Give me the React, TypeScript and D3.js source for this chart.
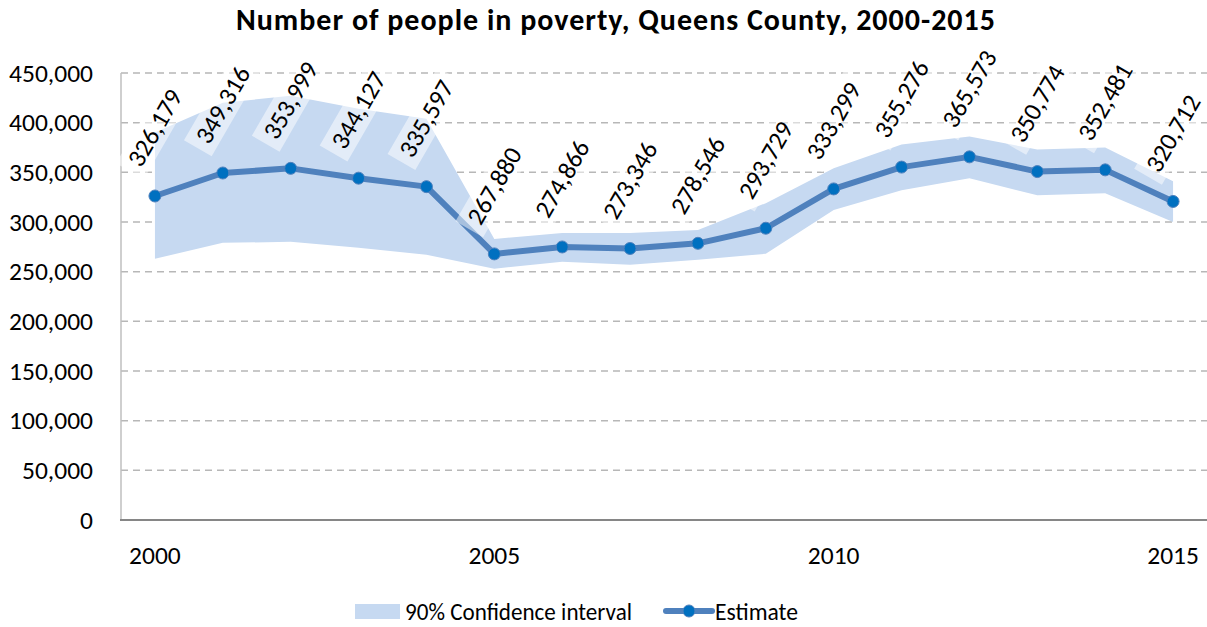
import React from "react";
import * as d3 from "d3";

const years = [2000, 2001, 2002, 2003, 2004, 2005, 2006, 2007, 2008, 2009, 2010, 2011, 2012, 2013, 2014, 2015];
const estimate = [326179, 349316, 353999, 344127, 335597, 267880, 274866, 273346, 278546, 293729, 333299, 355276, 365573, 350774, 352481, 320712];
const lower = [263000, 279000, 280000, 274000, 267000, 253000, 260000, 257000, 262000, 268000, 312000, 332000, 344000, 327000, 329000, 300000];
const upper = [390000, 420000, 427000, 414000, 404000, 283000, 289000, 289000, 292000, 319000, 354000, 378000, 386000, 373000, 375000, 341000];
const yTicks = [0, 50000, 100000, 150000, 200000, 250000, 300000, 350000, 400000, 450000];
const xLabels = [2000, 2005, 2010, 2015];

const W = 1207;
const H = 627;
const FONT = "Carlito, Calibri, Lato, 'Open Sans', sans-serif";
const BAND = "#c6d9f1";
const LINE = "#4f81bd";
const MARK = "#0070c0";

export default function App() {
  const x = d3.scaleBand<number>().domain(years).range([121, 1207]).padding(0);
  const cx = (yr: number) => (x(yr) as number) + x.bandwidth() / 2;
  const y = d3.scaleLinear().domain([0, 450000]).range([520, 73]);
  const fmt = d3.format(",");

  const area = d3
    .area<number>()
    .x((_, i) => cx(years[i]))
    .y0((_, i) => y(lower[i]))
    .y1((_, i) => y(upper[i]));
  const line = d3
    .line<number>()
    .x((_, i) => cx(years[i]))
    .y((d) => y(d));

  const fs = 25.5;
  const labelW = 92;
  const labelH = 26;

  return (
    <svg width={W} height={H} style={{ position: "absolute", left: 0, top: 0, background: "#fff" }} fontFamily={FONT}>
      <text x={236} y={30} fontWeight="bold" fontSize={30} fill="#000" textLength={759} lengthAdjust="spacing">
        Number of people in poverty, Queens County, 2000-2015
      </text>
      {yTicks.slice(1).map((t) => (
        <line key={t} x1={121} x2={1207} y1={y(t)} y2={y(t)} stroke="#b7b7b7" strokeWidth={1.5} strokeDasharray="7,5" />
      ))}
      {yTicks.map((t) => (
        <text key={"l" + t} x={93} y={y(t) + 8.5} textAnchor="end" fontSize={fs} fill="#000">
          {fmt(t)}
        </text>
      ))}
      <path d={area(estimate) as string} fill={BAND} />
      <line x1={121} x2={121} y1={73} y2={520} stroke="#bfbfbf" strokeWidth={1.5} />
      <line x1={120} x2={1207} y1={520} y2={520} stroke="#868686" strokeWidth={2} />
      {xLabels.map((yr) => (
        <text key={yr} x={cx(yr)} y={564} textAnchor="middle" fontSize={fs} fill="#000">
          {yr}
        </text>
      ))}
      <path d={line(estimate) as string} fill="none" stroke={LINE} strokeWidth={6} strokeLinejoin="round" />
      {estimate.map((v, i) => (
        <circle key={i} cx={cx(years[i])} cy={y(v)} r={6} fill={MARK} stroke={LINE} strokeWidth={1} />
      ))}
      {estimate.map((v, i) => {
        const px = cx(years[i]);
        const py = y(v) - 68;
        return (
          <g key={"d" + i} transform={`translate(${px},${py}) rotate(-60)`}>
            <rect x={-labelW / 2 - 4} y={-labelH / 2 - 3} width={labelW + 8} height={labelH + 6} fill="#fff" fillOpacity={0.5} />
            <text x={0} y={8.5} textAnchor="middle" fontSize={fs} fill="#000">
              {fmt(v)}
            </text>
          </g>
        );
      })}
      <rect x={355} y={604} width={45} height={15} fill={BAND} />
      <text x={405} y={620} fontSize={fs} fill="#000" textLength={227} lengthAdjust="spacingAndGlyphs">90% Confidence interval</text>
      <line x1={666} x2={712} y1={611} y2={611} stroke={LINE} strokeWidth={6} strokeLinecap="round" />
      <circle cx={689} cy={611} r={6} fill={MARK} stroke={LINE} strokeWidth={1} />
      <text x={715} y={620} fontSize={fs} fill="#000" textLength={83} lengthAdjust="spacingAndGlyphs">Estimate</text>
    </svg>
  );
}
